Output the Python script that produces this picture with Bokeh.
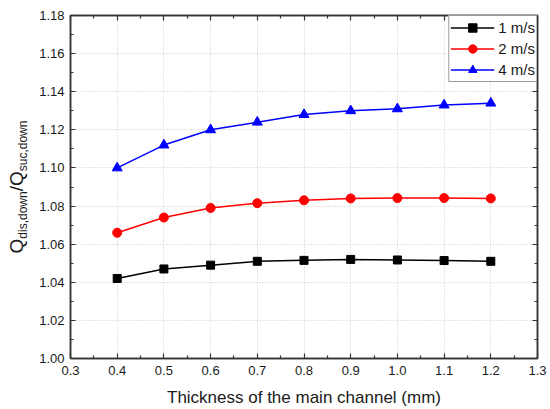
import math
from bokeh.plotting import figure
from bokeh.layouts import row
from bokeh.models import FixedTicker, LinearAxis, Range1d, Legend
from bokeh.core.properties import value
from bokeh.embed import file_html
from bokeh.resources import INLINE

# Data: flow ratio vs main channel thickness for three inlet velocities
thickness = [0.4, 0.5, 0.6, 0.7, 0.8, 0.9, 1.0, 1.1, 1.2]
ratio_1ms = [1.042, 1.047, 1.049, 1.051, 1.0515, 1.052, 1.0517, 1.0514, 1.051]
ratio_2ms = [1.066, 1.074, 1.079, 1.0815, 1.083, 1.084, 1.0842, 1.0842, 1.084]
ratio_4ms = [1.100, 1.112, 1.120, 1.124, 1.128, 1.130, 1.131, 1.133, 1.134]

x_ticks = [0.3, 0.4, 0.5, 0.6, 0.7, 0.8, 0.9, 1.0, 1.1, 1.2, 1.3]
x_tick_labels = ["0.3", "0.4", "0.5", "0.6", "0.7", "0.8", "0.9", "1.0", "1.1", "1.2", "1.3"]
y_ticks = [1.00, 1.02, 1.04, 1.06, 1.08, 1.10, 1.12, 1.14, 1.16, 1.18]
y_tick_labels = ["1.00", "1.02", "1.04", "1.06", "1.08", "1.10", "1.12", "1.14", "1.16", "1.18"]

x_title = "Thickness of the main channel (mm)"
# y title pieces: (text, font size px, is subscript)
y_title = [("Q", 19, False), ("dis,down", 12, True), ("/Q", 19, False), ("suc,down", 12, True)]

FONT = "Liberation Sans"
FRAME = "#333333"
TEXT = "#1a1a1a"
H = 409
STRIP_W = 32
TOP, BOTTOM = 15, 358  # frame edges in canvas pixels

p = figure(width=550 - STRIP_W, height=H, output_backend="svg", toolbar_location=None,
           x_range=Range1d(0.3, 1.3), y_range=Range1d(1.00, 1.18),
           min_border_left=70 - STRIP_W, min_border_right=13, min_border_top=TOP,
           min_border_bottom=H - BOTTOM)
p.background_fill_color = "white"
p.border_fill_color = "white"
p.outline_line_color = FRAME
p.outline_line_width = 1.5

x_minor = [round(0.35 + 0.1 * i, 2) for i in range(10)]
y_minor = [round(1.01 + 0.02 * i, 2) for i in range(9)]
xt = FixedTicker(ticks=x_ticks, minor_ticks=x_minor)
yt = FixedTicker(ticks=y_ticks, minor_ticks=y_minor)


def style_axis(ax, labels):
    ax.axis_line_color = FRAME
    ax.axis_line_width = 1.5
    ax.major_tick_in = 5
    ax.major_tick_out = 0
    ax.minor_tick_in = 3
    ax.minor_tick_out = 0
    ax.major_tick_line_color = FRAME
    ax.minor_tick_line_color = FRAME
    ax.major_tick_line_width = 1.2
    ax.minor_tick_line_width = 1.2
    ax.major_label_text_font = FONT
    ax.major_label_text_font_size = "13px"
    ax.major_label_text_color = TEXT
    ax.major_label_overrides = labels


xb = p.xaxis[0]
xb.ticker = xt
style_axis(xb, dict(zip(x_ticks, x_tick_labels)))
xb.major_label_standoff = 7
xb.axis_label = x_title
xb.axis_label_text_font = FONT
xb.axis_label_text_font_size = "17px"
xb.axis_label_text_font_style = "normal"
xb.axis_label_text_color = TEXT
xb.axis_label_standoff = 10

yl = p.yaxis[0]
yl.ticker = yt
style_axis(yl, dict(zip(y_ticks, y_tick_labels)))
yl.major_label_standoff = 6

# mirrored tick marks on the top and right edges, without labels
xa = LinearAxis(ticker=xt)
style_axis(xa, {t: "" for t in x_ticks})
xa.major_label_text_font_size = "1px"
xa.major_label_standoff = 0
p.add_layout(xa, "above")

yr = LinearAxis(ticker=yt)
style_axis(yr, {t: "" for t in y_ticks})
yr.major_label_text_font_size = "1px"
yr.major_label_standoff = 0
p.add_layout(yr, "right")

for g in (p.xgrid[0], p.ygrid[0]):
    g.grid_line_color = "#c8c8c8"
    g.grid_line_dash = "1 2"
    g.grid_line_width = 1
p.xgrid[0].ticker = xt
p.ygrid[0].ticker = yt

series = [
    (ratio_1ms, "#000000", "square", 8, "1 m/s"),
    (ratio_2ms, "#ff0000", "circle", 9, "2 m/s"),
    (ratio_4ms, "#0000ff", "triangle", 10, "4 m/s"),
]
items = []
for ys, color, marker, size, name in series:
    r1 = p.line(thickness, ys, line_color=color, line_width=1.5)
    r2 = p.scatter(thickness, ys, marker=marker, size=size, fill_color=color, line_color=color)
    items.append((name, [r1, r2]))

legend = Legend(items=items, location="top_right", margin=0, padding=1, spacing=0,
                label_height=21, glyph_height=21, glyph_width=44, label_standoff=4,
                label_text_font=FONT, label_text_font_size="15px", label_text_color=TEXT,
                border_line_color=FRAME, border_line_width=1, background_fill_color="white",
                background_fill_alpha=1)
p.add_layout(legend, "center")

# narrow strip on the left carrying the rotated y title with subscripts;
# its frame lines up with the main frame, so map its y range to canvas pixels
s = figure(width=STRIP_W, height=H, output_backend="svg", toolbar_location=None,
           x_range=Range1d(0, STRIP_W), y_range=Range1d(H - BOTTOM, H - TOP),
           x_axis_location=None, y_axis_location=None,
           min_border=0, outline_line_color=None)
s.grid.visible = False
s.background_fill_color = "white"
s.border_fill_color = "white"

ARIAL = {"Q": 0.778, "d": 0.556, "i": 0.222, "s": 0.5, ",": 0.278, "o": 0.556,
         "w": 0.722, "n": 0.556, "/": 0.278, "u": 0.556, "c": 0.5}
lengths = [sum(ARIAL[c] for c in t) * fs for t, fs, _ in y_title]
center_y = H - (TOP + BOTTOM) / 2
pos = center_y - sum(lengths) / 2
base_x = 16
for (t, fs, sub), ln in zip(y_title, lengths):
    s.text(x=[base_x + (6 if sub else 0)], y=[pos], text=[t], angle=math.pi / 2,
           text_font=value(FONT), text_font_size=f"{fs}px", text_color=TEXT,
           text_align="left", text_baseline="alphabetic")
    pos += ln

layout = row(s, p)
open("out.html", "w").write(file_html(layout, INLINE))
